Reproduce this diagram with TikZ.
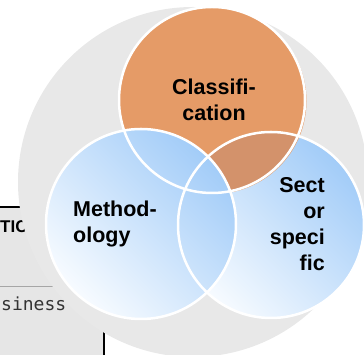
\documentclass[tikz,border=0pt]{standalone}
\usepackage{fontspec}
\setmainfont{Liberation Sans}
\setmonofont{DejaVu Sans Mono}
\usepackage{tikz}
\usetikzlibrary{positioning}
\definecolor{bggray}{HTML}{E8E8E8}
\definecolor{boxgray}{HTML}{E6E6E6}
\definecolor{orangefill}{HTML}{E59B67}
\definecolor{orangedark}{HTML}{D3926B}
\definecolor{lblue}{HTML}{A2CCF8}
\definecolor{pale}{HTML}{F7FBFF}
\tikzstyle{ring}=[draw=white, line width=2.5pt]
\tikzstyle{bluedisc}=[top color=lblue, bottom color=pale, shading angle=-45]
\tikzstyle{lbl}=[inner sep=0pt, text=black, font=\fontsize{21.5}{26}\selectfont\bfseries]

\begin{document}
\begin{tikzpicture}[x=1pt, y=1pt]
	\useasboundingbox (0,0) rectangle (364,355);
	\clip (0,0) rectangle (364,355);

	% page behind
	\fill[boxgray] (0,0) rectangle (104,148);
	\draw[line width=1.5pt] (0,148) -- (60,148);
	\draw[line width=2.5pt] (104,0) -- (104,148);
	\draw[gray!70, line width=0.8pt] (0,69) -- (60,69);
	\node[anchor=base west, inner sep=0pt, font=\fontsize{17}{20}\selectfont\bfseries] (tic) at (0,122) {TIC};
	\node[anchor=base west, inner sep=0pt, text=black!80, font=\ttfamily\fontsize{18}{20}\selectfont] (biz) at (1,44) {siness};

	% discs
	\fill[bggray] (193,173) circle (175);
	\shade[bluedisc] (271,130) circle (93);
	\fill[orangefill] (213.5,254) circle (93);
	\fill[orangefill] (212,255) circle (93);
	\begin{scope}
		\clip (271,130) circle (93);
		\fill[orangedark] (212,255) circle (93);
	\end{scope}
	\shade[bluedisc] (141,131) circle (95);

	\draw[style=ring] (212,255) circle (93);
	\draw[style=ring] (271,130) circle (93);
	\draw[style=ring] (141,131) circle (95);

	\node[style=lbl, align=center] (cls) at (214,254.8) {Classifi-\\cation};
	\node[style=lbl, align=left, anchor=west] (meth) at (73,131.2) {Method-\\ology};
	\node[style=lbl, align=right, anchor=east] (sect) at (325,131.2) {Sect\\or\\speci\\fic};
\end{tikzpicture}
\end{document}
